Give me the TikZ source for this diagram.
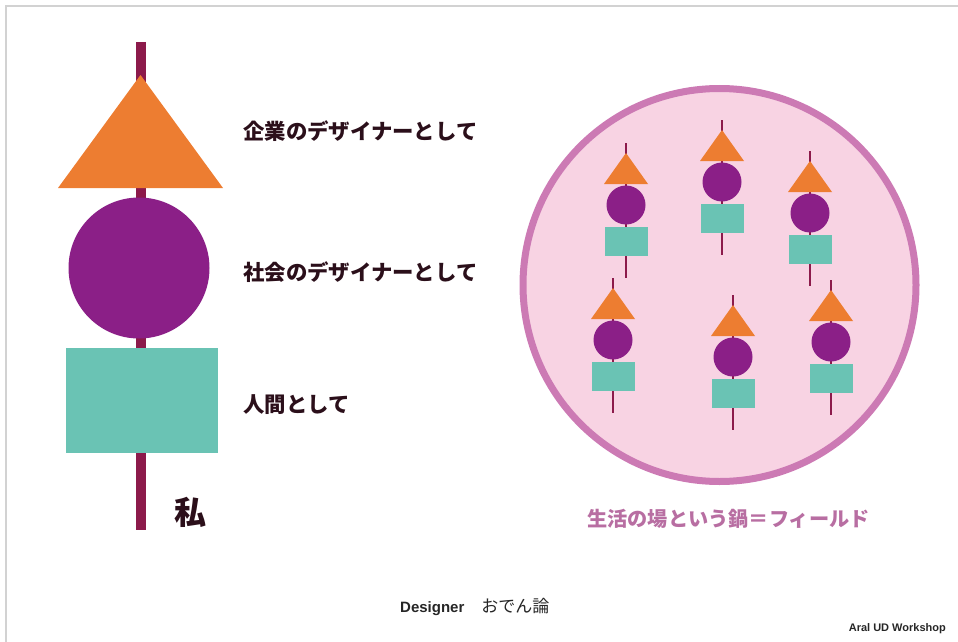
\documentclass[tikz,border=0pt]{standalone}
\usepackage{fontspec}
\setmainfont{Liberation Sans}
\newfontfamily\jp{Noto Sans CJK JP}
\definecolor{stickc}{HTML}{8C1A4B}
\definecolor{orangec}{HTML}{ED7D31}
\definecolor{purplec}{HTML}{8B1F87}
\definecolor{tealc}{HTML}{6AC3B4}
\definecolor{potfill}{HTML}{F8D3E3}
\definecolor{potedge}{HTML}{CC7AB4}
\definecolor{labelc}{HTML}{2B0F1A}
\definecolor{framec}{HTML}{D2D2D2}
\tikzset{
  stickline/.style={draw=stickc},
  tri/.style={fill=orangec},
  ball/.style={fill=purplec},
  block/.style={fill=tealc},
  role/.style={anchor=west, inner sep=0pt, text=labelc, font=\jp\bfseries\fontsize{21.4}{25}\selectfont},
  oden/.pic={
    \draw[stickline, line width=2.8pt] (0,-10) -- (0,125);
    \fill[tri] (0,0) -- (-22,31) -- (22,31) -- cycle;
    \fill[ball] (0,52) circle[radius=19.5pt];
    \fill[block] (-21.5,74) rectangle (21.5,103);
  }
}
\begin{document}
\begin{tikzpicture}[x=1pt,y=-1pt]
\useasboundingbox (0,0) rectangle (958,642);
% frame
\draw[framec, line width=2pt] (6,642) -- (6,6) -- (958,6);
% large skewer
\draw[stickline, line width=10pt] (141,42) -- (141,530);
\fill[tri] (140.5,75) -- (58,188) -- (223,188) -- cycle;
\fill[ball] (139,268) circle[radius=70.5pt];
\fill[block] (66,348) rectangle (218,453);
\node[inner sep=0pt, text=labelc, font=\jp\bfseries\fontsize{32}{36}\selectfont] (me) at (190,512) {私};
% labels
\node[role] (corp) at (243,131) {企業のデザイナーとして};
\node[role] (soc) at (243,272) {社会のデザイナーとして};
\node[role] (human) at (243,405) {人間として};
% pot
\draw[potedge, fill=potfill, line width=7pt] (719.5,285) circle[radius=196.5pt];
\pic at (626,153) {oden};
\pic at (722,130) {oden};
\pic at (810,161) {oden};
\pic at (613,288) {oden};
\pic at (733,305) {oden};
\pic at (831,290) {oden};
\node[inner sep=0pt, text=potedge!90!black, font=\jp\bfseries\fontsize{20.2}{24}\selectfont] (field) at (728.5,519) {生活の場という鍋＝フィールド};
% title
\node[anchor=west, inner sep=0pt, text=black!85] (title) at (400,607) {\fontsize{15}{18}\selectfont\bfseries Designer\jp\mdseries\fontsize{17}{18}\selectfont　おでん論};
\node[anchor=east, inner sep=0pt, text=black!85, font=\bfseries\fontsize{11}{13}\selectfont] (credit) at (946,629) {Aral UD Workshop};
\end{tikzpicture}
\end{document}
